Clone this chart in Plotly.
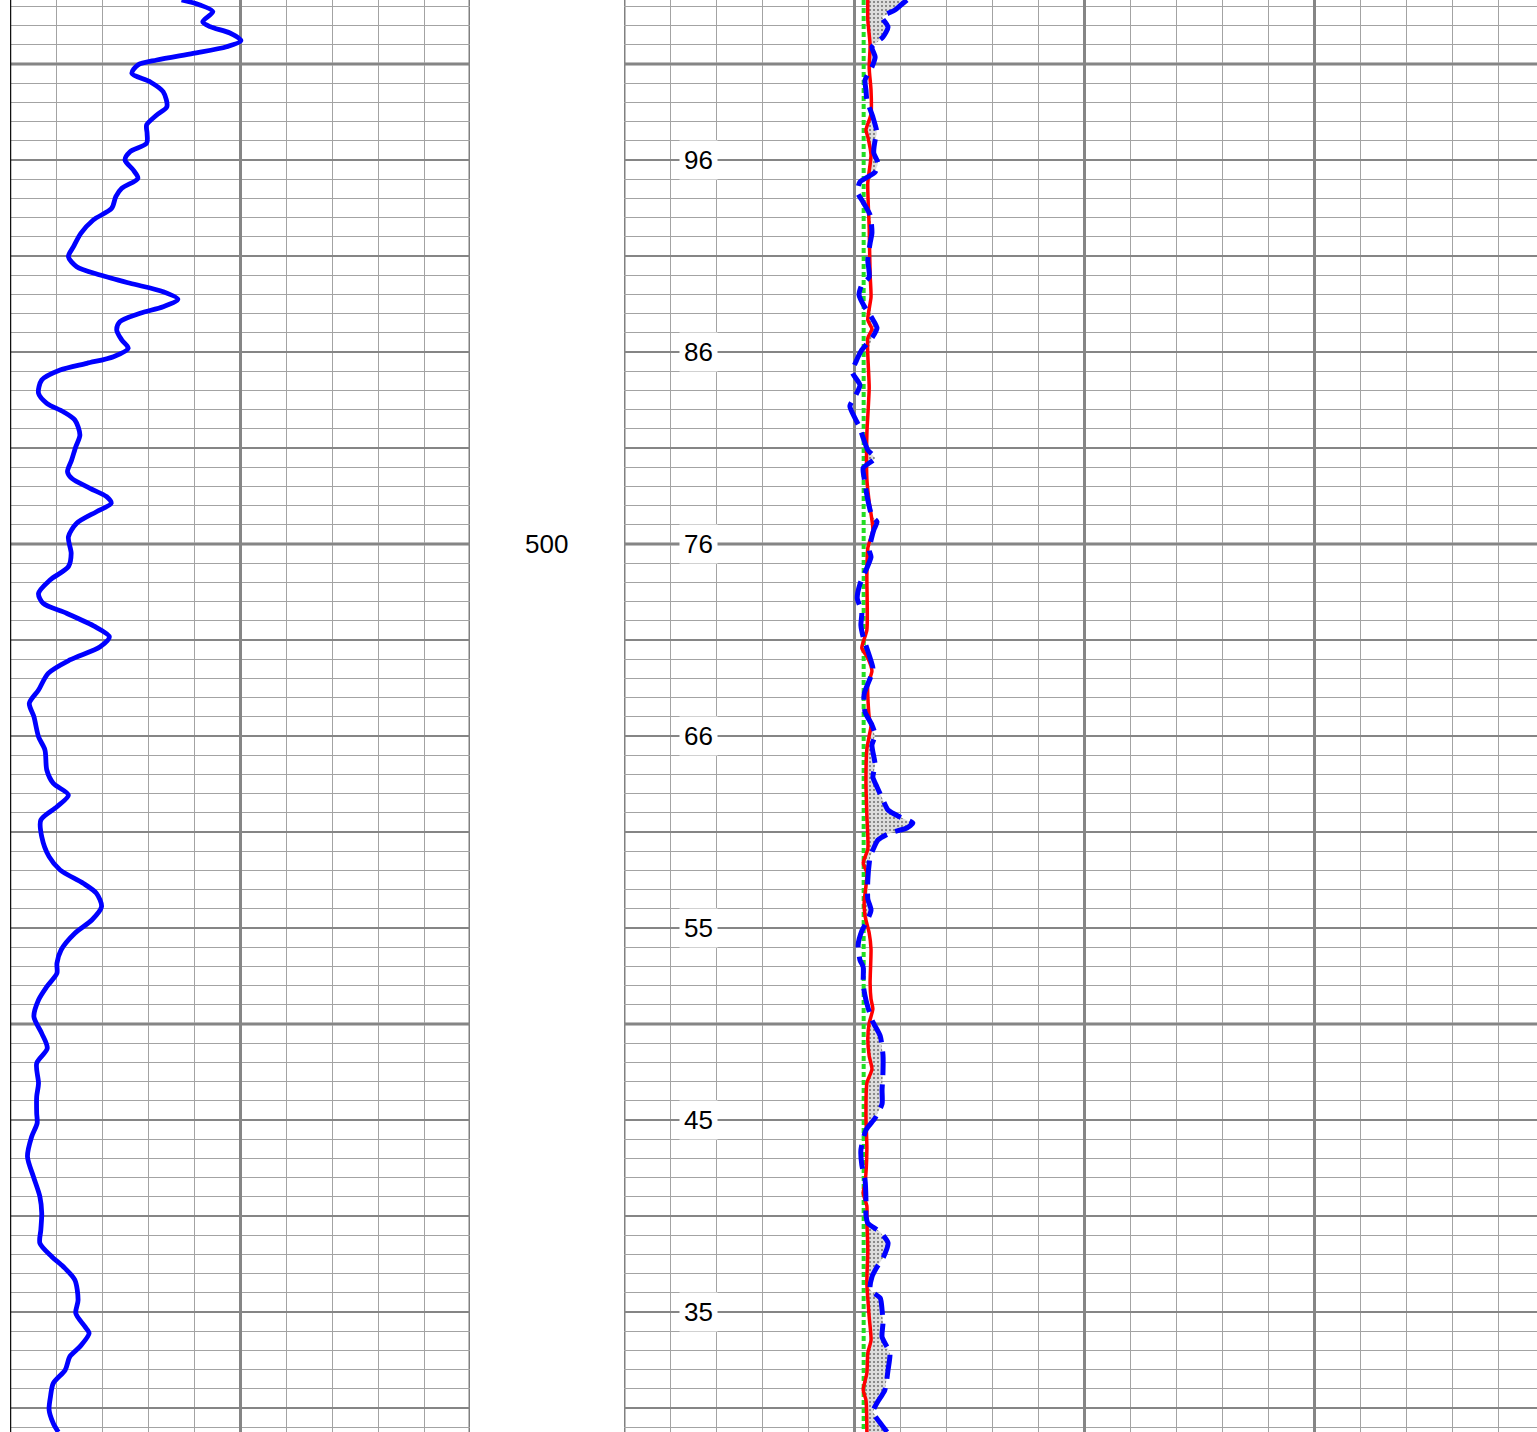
import numpy as np
import plotly.graph_objects as go

# ---------------- data ----------------
# Left track (gamma-ray style curve), depth vs value (0-100 scale)
gr_depth = [443.33, 443.85, 444.55, 445.59, 446.11, 446.77, 447.57, 448.20, 448.89, 449.58,
            450.10, 450.97, 451.84, 452.89, 454.45, 455.31, 456.35, 457.22, 458.26, 459.14,
            460.00, 461.04, 461.91, 462.95, 463.82, 465.03, 466.25, 467.64, 469.03, 470.07,
            471.11, 471.98, 472.84, 473.72, 474.51, 475.28, 475.97, 476.84, 477.71, 478.75,
            479.61, 480.49, 481.18, 481.88, 482.92, 484.30, 485.34, 486.22, 487.08, 488.65,
            489.86, 491.25, 492.47, 493.16, 494.20, 495.07, 495.76, 496.64, 497.84, 499.24,
            500.97, 502.36, 503.75, 505.14, 506.18, 507.22, 508.61, 509.66, 510.70, 512.08,
            513.47, 515.21, 516.59, 517.99, 520.07, 521.46, 523.54, 524.93, 526.15, 527.36,
            528.75, 530.49, 532.57, 533.96, 535.34, 536.39, 537.78, 539.17, 540.55, 542.29,
            543.68, 544.72, 546.11, 547.50, 549.24, 550.97, 552.53, 554.09, 556.18, 557.57,
            559.30, 560.34, 561.74, 563.82, 565.91, 567.99, 569.72, 571.46, 572.84, 574.24,
            575.28, 576.67, 578.75, 580.14, 581.53, 582.22, 583.61, 584.65, 586.04, 587.43,
            588.82, 590.21, 591.59, 592.50]
gr_value = [37.3, 41.3, 44.1, 41.9, 43.5, 47.8, 50.2, 47.1, 39.8, 31.9,
            27.8, 26.5, 30.4, 33.3, 34.1, 31.9, 29.7, 29.8, 29.7, 26.1,
            25.0, 26.8, 27.8, 24.3, 23.0, 22.1, 18.1, 15.4, 13.8, 12.7,
            14.5, 19.6, 26.1, 33.3, 36.5, 33.3, 28.3, 23.9, 23.2, 24.3,
            25.7, 22.5, 16.7, 10.9, 6.9, 6.2, 8.0, 11.6, 14.1, 15.2,
            14.3, 13.4, 12.5, 13.4, 17.4, 21.0, 22.0, 18.8, 14.5, 12.7,
            13.3, 12.7, 8.7, 6.2, 7.2, 12.3, 18.5, 21.6, 19.6, 13.0,
            8.3, 6.2, 4.2, 5.2, 6.2, 7.6, 8.0, 9.4, 12.7, 10.2,
            6.7, 6.9, 8.5, 10.9, 15.9, 18.8, 19.9, 17.8, 14.1, 11.1,
            10.2, 10.2, 8.0, 6.2, 5.2, 6.9, 8.1, 5.8, 6.2, 5.8,
            5.8, 5.9, 4.7, 3.8, 5.1, 6.5, 6.9, 6.7, 6.5, 9.1,
            11.6, 14.1, 14.8, 14.3, 16.3, 17.2, 15.2, 13.0, 12.0, 9.4,
            8.8, 8.5, 9.4, 10.5]

# Right track: dashed blue curve
blue_depth = [443.33, 443.85, 444.38, 445.10, 446.15, 447.19, 448.23, 449.27, 450.31, 451.67,
              452.71, 453.75, 455.52, 457.19, 457.92, 459.27, 460.31, 461.25, 462.29, 463.33,
              464.17, 465.73, 467.60, 468.65, 470.42, 472.19, 473.02, 474.06, 475.21, 476.46,
              477.50, 478.54, 479.79, 481.04, 482.08, 483.44, 484.48, 485.63, 486.88, 487.92,
              488.96, 490.21, 491.04, 492.08, 493.13, 495.42, 497.08, 497.71, 498.54, 500.63,
              501.35, 504.17, 505.63, 507.08, 508.44, 509.69, 511.88, 512.92, 513.75, 515.63,
              517.50, 518.85, 519.90, 520.94, 523.02, 524.27, 525.31, 526.67, 527.71, 528.44,
              529.06, 529.58, 530.10, 530.83, 531.88, 532.60, 535.00, 536.98, 538.13, 539.27,
              540.31, 541.77, 543.33, 544.06, 545.94, 547.50, 549.58, 551.25, 553.23, 555.00,
              556.88, 558.33, 559.79, 561.04, 563.13, 564.69, 566.25, 568.33, 569.90, 570.73,
              571.67, 572.81, 574.38, 575.31, 576.35, 577.71, 578.54, 579.79, 581.15, 582.60,
              584.27, 586.04, 588.13, 589.48, 590.42, 591.56, 592.50]
blue_value = [61.5, 60.2, 58.9, 56.1, 57.4, 56.3, 53.9, 54.6, 53.9, 52.4,
              52.6, 52.8, 54.1, 55.0, 54.6, 54.3, 55.2, 54.6, 51.3, 50.7,
              51.7, 53.5, 53.9, 53.5, 53.0, 53.3, 51.7, 51.1, 52.2, 53.9,
              55.0, 53.9, 51.7, 50.4, 49.6, 51.3, 50.4, 49.1, 50.2, 51.3,
              52.0, 53.0, 54.6, 52.0, 52.2, 53.0, 53.9, 55.0, 54.3, 53.3,
              53.7, 51.3, 50.7, 51.7, 51.5, 52.0, 53.5, 54.1, 53.7, 52.2,
              52.4, 53.9, 54.6, 53.9, 54.6, 54.1, 55.0, 56.3, 57.4, 60.0,
              62.8, 61.5, 57.8, 55.2, 54.1, 53.5, 53.0, 53.0, 53.7, 52.8,
              51.7, 50.9, 51.3, 52.0, 52.0, 52.6, 53.9, 55.7, 56.3, 56.3,
              56.1, 56.1, 54.6, 52.6, 51.5, 51.7, 52.4, 52.6, 52.6, 53.0,
              55.7, 57.4, 56.3, 55.0, 53.9, 53.5, 55.7, 56.1, 56.3, 56.1,
              57.8, 57.4, 56.7, 55.0, 54.1, 55.7, 57.2]

# Right track: solid red curve
red_depth = [443.33, 445.42, 448.02, 450.42, 452.71, 455.21, 456.88, 457.60, 459.48, 462.40,
             467.08, 471.88, 474.27, 476.67, 477.60, 478.54, 483.75, 488.54, 493.23, 495.63,
             498.54, 500.42, 503.23, 508.96, 510.83, 511.88, 513.23, 514.69, 518.02, 518.96,
             520.00, 521.35, 524.90, 528.33, 531.77, 533.23, 534.27, 537.40, 538.75, 540.52,
             542.19, 545.73, 547.40, 548.44, 549.90, 551.56, 553.33, 554.69, 556.15, 559.58,
             563.02, 566.56, 567.60, 568.96, 570.42, 573.54, 576.98, 580.52, 582.92, 584.27,
             586.35, 588.13, 589.17, 592.50]
red_value = [53.0, 53.0, 53.5, 53.3, 53.7, 53.7, 52.6, 53.0, 53.7, 53.0,
             53.3, 53.5, 53.7, 53.0, 53.9, 53.0, 53.3, 52.8, 52.8, 53.3,
             54.1, 53.0, 52.8, 52.8, 51.7, 53.0, 53.9, 53.0, 53.3, 53.7,
             53.3, 52.8, 52.6, 52.8, 53.0, 52.0, 52.8, 52.2, 52.4, 53.3,
             53.7, 53.5, 53.7, 54.1, 53.3, 53.0, 53.3, 53.9, 52.8, 52.6,
             52.8, 52.4, 52.0, 52.8, 52.8, 53.0, 52.8, 53.3, 53.7, 53.0,
             52.8, 52.0, 52.6, 52.8]

# Right track: green dotted baseline
baseline_value = 52.1

# Labels
depth_label_text = ["500"]
depth_label_depth = [500]
track_label_text = ["96", "86", "76", "66", "55", "45", "35"]
track_label_depth = [460, 480, 500, 520, 540, 560, 580]
track_label_x = 16.1

# ---------------- layout geometry ----------------
W, H = 1537, 1432
depth_top, depth_bottom = 443.333, 592.5
left_dom = [10 / W, 470 / W]
right_dom = [624 / W, 1.0]
right_range = [0, (W - 624) / 4.6]

fig = go.Figure()

# Fill between red and blue where blue > red
common = np.union1d(np.array(blue_depth), np.array(red_depth))
red_i = np.interp(common, red_depth, red_value)
blue_i = np.interp(common, blue_depth, blue_value)
upper = np.maximum(red_i, blue_i)

fig.add_trace(go.Scatter(x=red_i, y=common, xaxis="x2", yaxis="y", mode="lines",
                         line=dict(width=0, color="rgba(0,0,0,0)"), hoverinfo="skip",
                         showlegend=False))
fig.add_trace(go.Scatter(x=upper, y=common, xaxis="x2", yaxis="y", mode="lines",
                         line=dict(width=0, color="rgba(0,0,0,0)"), fill="tonextx",
                         fillcolor="#d6d6d6",
                         fillpattern=dict(shape=".", fgcolor="#000000", bgcolor="#dcdcdc",
                                          size=4, solidity=0.2),
                         hoverinfo="skip", showlegend=False))

# Green baseline
fig.add_trace(go.Scatter(x=[baseline_value, baseline_value], y=[depth_top, depth_bottom],
                         xaxis="x2", yaxis="y", mode="lines",
                         line=dict(color="#22dd22", width=4, dash="5px,3px"),
                         hoverinfo="skip", showlegend=False))

# Red curve
fig.add_trace(go.Scatter(x=red_value, y=red_depth, xaxis="x2", yaxis="y", mode="lines",
                         line=dict(color="#ff0000", width=3.5, shape="spline", smoothing=0.6),
                         hoverinfo="skip", showlegend=False))

# Blue dashed curve
fig.add_trace(go.Scatter(x=blue_value, y=blue_depth, xaxis="x2", yaxis="y", mode="lines",
                         line=dict(color="#0000ff", width=5, dash="24px,9px",
                                   shape="spline", smoothing=0.6),
                         hoverinfo="skip", showlegend=False))

# Left curve
fig.add_trace(go.Scatter(x=gr_value, y=gr_depth, xaxis="x", yaxis="y", mode="lines",
                         line=dict(color="#0000ff", width=4.8, shape="spline", smoothing=0.8),
                         hoverinfo="skip", showlegend=False))

grid_major = "#858585"
grid_minor = "#a3a3a3"

xaxis_common = dict(showticklabels=False, ticks="", zeroline=False, showline=False,
                    dtick=50, tick0=0, showgrid=True, gridcolor=grid_major, gridwidth=3,
                    minor=dict(dtick=10, tick0=0, showgrid=True, gridcolor=grid_minor,
                               gridwidth=1),
                    fixedrange=True)

fig.update_layout(
    width=W, height=H,
    margin=dict(l=0, r=0, t=0, b=0, pad=0),
    paper_bgcolor="white", plot_bgcolor="white",
    showlegend=False, hovermode=False,
    xaxis=dict(domain=left_dom, range=[0, 100], anchor="y", **xaxis_common),
    xaxis2=dict(domain=right_dom, range=right_range, anchor="y", **xaxis_common),
    yaxis=dict(range=[depth_bottom, depth_top], anchor="x", showticklabels=False,
               ticks="", zeroline=False, showline=False,
               dtick=10, tick0=0, showgrid=True, gridcolor=grid_major, gridwidth=2,
               minor=dict(dtick=2, tick0=0, showgrid=True, gridcolor=grid_minor,
                          gridwidth=1),
               fixedrange=True),
)

# Thick depth lines every 50 units across both tracks, and track borders
shapes = []
for d in range(450, 600, 50):
    for xr in ("x", "x2"):
        rng = [0, 100] if xr == "x" else right_range
        shapes.append(dict(type="line", xref=xr, yref="y", x0=rng[0], x1=rng[1], y0=d, y1=d,
                           line=dict(color="#808080", width=3), layer="below"))
# Track borders
shapes.append(dict(type="line", xref="x", yref="paper", x0=100, x1=100, y0=0, y1=1,
                   line=dict(color="#808080", width=3), layer="below"))
shapes.append(dict(type="line", xref="x2", yref="paper", x0=0, x1=0, y0=0, y1=1,
                   line=dict(color="#808080", width=3), layer="below"))
# Black left frame line
shapes.append(dict(type="line", xref="x", yref="paper", x0=0, x1=0, y0=0, y1=1,
                   line=dict(color="#111111", width=2.5), layer="above"))
fig.update_layout(shapes=shapes)

annotations = []
for t, d in zip(depth_label_text, depth_label_depth):
    annotations.append(dict(text=t, xref="paper", yref="y", x=546 / W, y=d,
                            showarrow=False, xanchor="center", yanchor="middle",
                            font=dict(family="Arial, Liberation Sans, sans-serif",
                                      size=26, color="black")))
for t, d in zip(track_label_text, track_label_depth):
    annotations.append(dict(text=t, xref="x2", yref="y", x=track_label_x, y=d,
                            showarrow=False, xanchor="center", yanchor="middle",
                            bgcolor="white", borderpad=4,
                            font=dict(family="Arial, Liberation Sans, sans-serif",
                                      size=26, color="black")))
fig.update_layout(annotations=annotations)

fig.write_html("out.html", config={"displayModeBar": False, "staticPlot": True},
               post_script="document.body.style.margin='0px';document.body.style.padding='0px';")
